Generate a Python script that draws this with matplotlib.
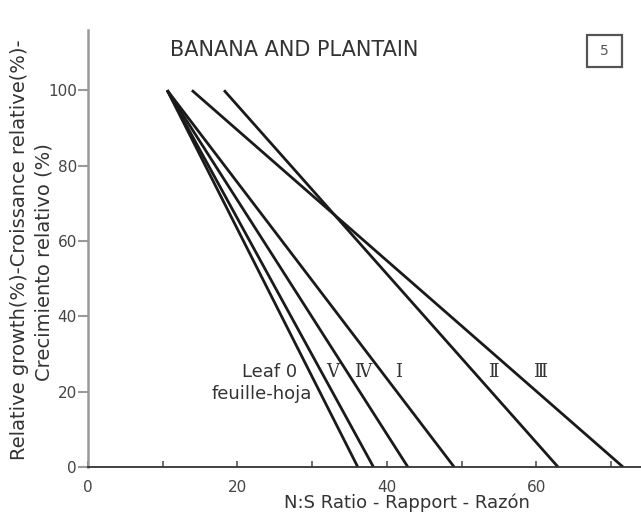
import matplotlib
matplotlib.use("Agg")
import matplotlib.pyplot as plt
from matplotlib.patches import Rectangle

# ---- data ----
series = ["Leaf 0", "V", "IV", "I", "II", "III"]
start_x = [10.6, 10.6, 10.6, 10.6, 18.2, 13.9]
start_y = [100, 100, 100, 100, 100, 100]
end_x = [36.1, 38.2, 42.8, 49.0, 62.9, 71.6]
end_y = [0, 0, 0, 0, 0, 0]

numeral_labels = ["Ⅴ", "Ⅳ", "Ⅰ", "Ⅱ", "Ⅲ"]
numeral_x = [32.7, 36.8, 41.5, 54.2, 60.5]
numeral_y = 25.2

x_label_ticks = [0, 20, 40, 60]
x_minor_ticks = [10, 30, 50, 70]
y_ticks = [0, 20, 40, 60, 80, 100]

W, H = 641, 516
fig = plt.figure(figsize=(W / 100, H / 100), dpi=100)
ax = fig.add_axes([88 / W, 49 / H, 1 - 88 / W, (467 - 30) / H])
ax.set_xlim(0, 74.0)
ax.set_ylim(0, 116)

for sx, sy, ex, ey in zip(start_x, start_y, end_x, end_y):
    ax.plot([sx, ex], [sy, ey], color="#1a1a1a", lw=2.0, solid_capstyle="butt")

for s in ["top", "right"]:
    ax.spines[s].set_visible(False)
ax.spines["bottom"].set_color("#333333")
ax.spines["bottom"].set_linewidth(1.3)
ax.spines["left"].set_color("#9a9a9a")
ax.spines["left"].set_linewidth(1.8)

ax.set_xticks(x_label_ticks)
ax.set_xticklabels([str(v) for v in x_label_ticks])
ax.set_xticks(x_minor_ticks, minor=True)
ax.tick_params(axis="x", which="both", direction="in", length=4, width=1.2,
               colors="#555555", labelsize=11, pad=9)
ax.tick_params(axis="x", which="major", labelcolor="#444444")

ax.set_yticks(y_ticks)
ax.set_yticklabels([str(v) for v in y_ticks])
ax.tick_params(axis="y", direction="out", length=7, width=1.5, colors="#9a9a9a",
               labelsize=11, pad=1, labelcolor="#444444")

# numerals
for lab, xx in zip(numeral_labels, numeral_x):
    ax.text(xx, numeral_y, lab, ha="center", va="center", fontsize=13,
            color="#333333", family=["DejaVu Serif", "Noto Sans CJK JP", "DejaVu Sans"])

ax.text(28.0, 25.2, "Leaf 0", ha="right", va="center", fontsize=13, color="#333333")
ax.text(30.0, 19.4, "feuille-hoja", ha="right", va="center", fontsize=13, color="#333333")

# title and panel number
fig.text(170 / W, 1 - 50 / H, "BANANA AND PLANTAIN", ha="left", va="center",
         fontsize=15, color="#333333")
fig.patches.append(Rectangle((587 / W, 1 - 67 / H), 35 / W, 32 / H, transform=fig.transFigure,
                             fill=False, edgecolor="#555555", lw=1.6))
fig.text(604.5 / W, 1 - 51 / H, "5", ha="center", va="center", fontsize=10, color="#555555")

# axis labels
fig.text(20 / W, 1 - 460 / H, "Relative growth(%)-Croissance relative(%)-", rotation=90,
         ha="center", va="bottom", fontsize=14, color="#333333")
fig.text(44 / W, 1 - 262 / H, "Crecimiento relativo (%)", rotation=90,
         ha="center", va="center", fontsize=14, color="#333333")
fig.text(407 / W, 8 / H, "N:S Ratio - Rapport - Razón", ha="center", va="baseline",
         fontsize=13, color="#333333")

fig.savefig("out.png", dpi=100)
